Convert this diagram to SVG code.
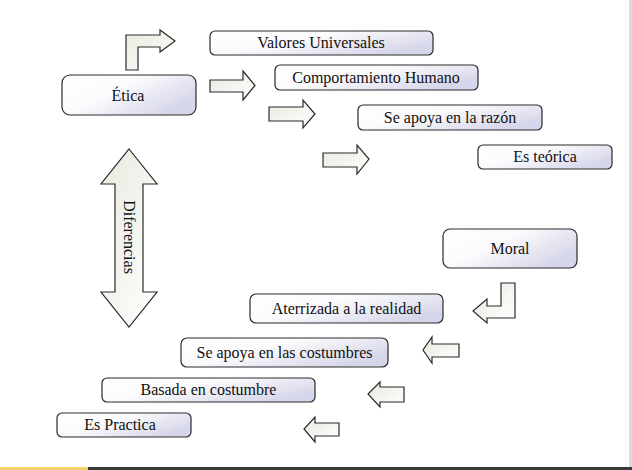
<svg xmlns="http://www.w3.org/2000/svg" width="632" height="470" viewBox="0 0 632 470">
<defs>
<linearGradient id="boxg" x1="0" y1="0" x2="1" y2="0.6">
<stop offset="0" stop-color="#ffffff"/>
<stop offset="0.45" stop-color="#fbfbfd"/>
<stop offset="1" stop-color="#d6d6ea"/>
</linearGradient>
<linearGradient id="arrg" x1="0" y1="0" x2="1" y2="1">
<stop offset="0" stop-color="#e9e9df"/>
<stop offset="1" stop-color="#ffffff"/>
</linearGradient>
<style>
.box{fill:url(#boxg);stroke:#2a2a2a;stroke-width:1.2}
.arr{fill:url(#arrg);stroke:#2a2a2a;stroke-width:1.2;stroke-linejoin:miter}
.t{font-family:"Liberation Serif","Times New Roman",serif;font-size:16px;fill:#111;text-anchor:middle}
</style>
</defs>
<rect x="0" y="0" width="632" height="470" fill="#ffffff"/>
<rect x="625" y="0" width="1" height="467" fill="#f2f2f2"/>
<rect x="629" y="0" width="3" height="467" fill="#dcdcdc"/>
<rect x="0" y="467" width="88" height="3" fill="#f0d46a"/>
<rect x="88" y="467" width="544" height="3" fill="#3a3a3a"/>

<g id="connectors">
<path class="arr" d="M126,70 L126,35 L160,35 L160,30 L175,41 L160,52 L160,47 L138,47 L138,70 Z"/>
<path class="arr" d="M210,80 L243,80 L243,71 L255,85.5 L243,100 L243,92 L210,92 Z"/>
<path class="arr" d="M269,107 L303,107 L303,100 L315,114 L303,128 L303,121 L269,121 Z"/>
<path class="arr" d="M323,153 L357,153 L357,145 L369,159 L357,174 L357,167 L323,167 Z"/>
<path class="arr" d="M129,149 L157,184 L143,184 L143,292 L157,292 L129,327 L101,292 L115,292 L115,184 L101,184 Z"/>
<path class="arr" d="M515,283 L515,318 L487,318 L487,323 L473,311 L487,299 L487,306 L501,306 L501,283 Z"/>
<path class="arr" d="M459,344 L432,344 L432,337 L423,350 L432,363 L432,357 L459,357 Z"/>
<path class="arr" d="M404,387 L380,387 L380,382 L368,394 L380,407 L380,402 L404,402 Z"/>
<path class="arr" d="M339,423 L315,423 L315,417 L304,429 L315,442 L315,436 L339,436 Z"/>
<text class="t" transform="translate(129,237) rotate(90)" y="5">Diferencias</text>
</g>

<g id="etica">
<rect class="box" x="62" y="75" width="134" height="40" rx="8"/>
<text class="t" x="128" y="101">Ética</text>
</g>
<g id="valores">
<rect class="box" x="210" y="31" width="223" height="24" rx="5"/>
<text class="t" x="321" y="48">Valores Universales</text>
</g>
<g id="comportamiento">
<rect class="box" x="275" y="65" width="203" height="25" rx="5"/>
<text class="t" x="376" y="83">Comportamiento Humano</text>
</g>
<g id="razon">
<rect class="box" x="358" y="105" width="184" height="25" rx="5"/>
<text class="t" x="450" y="123">Se apoya en la razón</text>
</g>
<g id="teorica">
<rect class="box" x="478" y="145" width="134" height="24" rx="5"/>
<text class="t" x="545" y="162">Es teórica</text>
</g>
<g id="moral">
<rect class="box" x="443" y="229" width="134" height="39" rx="7"/>
<text class="t" x="510" y="254">Moral</text>
</g>
<g id="aterrizada">
<rect class="box" x="250" y="294" width="193" height="29" rx="6"/>
<text class="t" x="346.5" y="314">Aterrizada a la realidad</text>
</g>
<g id="costumbres">
<rect class="box" x="181" y="338" width="207" height="29" rx="6"/>
<text class="t" x="284.5" y="358">Se apoya en las costumbres</text>
</g>
<g id="basada">
<rect class="box" x="102" y="378" width="213" height="24" rx="5"/>
<text class="t" x="208.5" y="395">Basada en costumbre</text>
</g>
<g id="practica">
<rect class="box" x="57" y="413" width="134" height="24" rx="5"/>
<text class="t" x="120" y="430">Es Practica</text>
</g>
</svg>
